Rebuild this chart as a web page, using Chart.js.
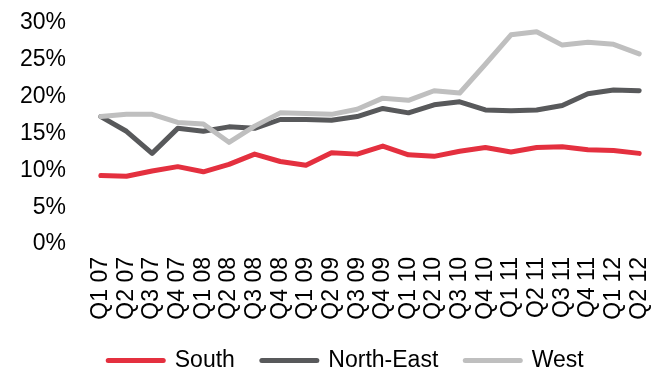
<!DOCTYPE html>
<html>
<head>
<meta charset="utf-8">
<script src="https://cdn.jsdelivr.net/npm/chart.js@4/dist/chart.umd.min.js"></script>
<style>
  html, body { margin: 0; padding: 0; background: #fff; }
  #wrap { width: 662px; height: 370px; position: relative; }
</style>
</head>
<body>
<div id="wrap"><canvas id="c"></canvas></div>
<script>
// Quarterly share by region, in percent
const quarters = ['Q1 07','Q2 07','Q3 07','Q4 07','Q1 08','Q2 08','Q3 08','Q4 08',
                  'Q1 09','Q2 09','Q3 09','Q4 09','Q1 10','Q2 10','Q3 10','Q4 10',
                  'Q1 11','Q2 11','Q3 11','Q4 11','Q1 12','Q2 12'];
const south     = [9.3, 9.2, 9.9, 10.5, 9.8, 10.8, 12.2, 11.2, 10.7, 12.4, 12.2, 13.3,
                   12.1, 11.9, 12.6, 13.1, 12.5, 13.1, 13.2, 12.8, 12.7, 12.3];
const northEast = [17.3, 15.3, 12.3, 15.7, 15.3, 15.9, 15.7, 16.9, 16.9, 16.8, 17.3, 18.4,
                   17.8, 18.9, 19.3, 18.2, 18.1, 18.2, 18.8, 20.4, 20.9, 20.8];
const west      = [17.3, 17.6, 17.6, 16.5, 16.3, 13.8, 16.0, 17.8, 17.7, 17.6, 18.3, 19.8,
                   19.5, 20.8, 20.5, 24.4, 28.4, 28.8, 27.0, 27.4, 27.1, 25.8];
const yTicks    = [0, 5, 10, 15, 20, 25, 30];

const FONT = 'Arial, "Liberation Sans", sans-serif';

function series(label, data, color, order) {
  return {
    label, data, order,
    borderColor: color,
    backgroundColor: color,
    borderWidth: 5,
    borderCapStyle: 'round',
    borderJoinStyle: 'round',
    pointRadius: 0,
    pointHoverRadius: 0,
    tension: 0,
    fill: false
  };
}

// Nudge the legend row so it sits centred under the plot area rather than the canvas
const legendNudge = {
  id: 'legendNudge',
  afterLayout(chart) {
    if (chart.legend) {
      chart.legend.left += 20;
      chart.legend.right += 20;
    }
  }
};

new Chart(document.getElementById('c'), {
  type: 'line',
  data: {
    labels: quarters,
    datasets: [
      series('South', south, '#e4303f', 0),
      series('North-East', northEast, '#58595b', 2),
      series('West', west, '#bfbfbf', 1)
    ]
  },
  plugins: [legendNudge],
  options: {
    responsive: true,
    maintainAspectRatio: false,
    animation: false,
    layout: { padding: { top: 23, right: 10, left: 0, bottom: -12 } },
    plugins: {
      tooltip: { enabled: false },
      legend: {
        position: 'bottom',
        labels: {
          color: '#000',
          font: { family: FONT, size: 23 },
          usePointStyle: true,
          pointStyleWidth: 55,
          boxHeight: 5,
          padding: 27,
          sort: (a, b) => a.datasetIndex - b.datasetIndex,
          generateLabels(chart) {
            const items = Chart.defaults.plugins.legend.labels.generateLabels(chart);
            items.forEach(it => {
              it.pointStyle = 'line';
              it.lineWidth = 5;
              it.lineCap = 'round';
            });
            return items;
          }
        }
      }
    },
    scales: {
      x: {
        offset: true,
        afterFit(axis) {
          axis.height = 78;
          axis.paddingLeft = 0;
          axis.paddingRight = 0;
        },
        grid: { display: false, drawTicks: false },
        border: { display: false },
        ticks: {
          autoSkip: false,
          maxRotation: 90,
          minRotation: 90,
          padding: 13,
          color: '#000',
          font: { family: FONT, size: 23 }
        }
      },
      y: {
        min: 0,
        max: 30,
        afterFit(axis) {
          axis.width = 88;
          axis.paddingTop = 0;
          axis.paddingBottom = 0;
        },
        afterBuildTicks(axis) { axis.ticks = yTicks.map(v => ({ value: v })); },
        grid: { display: false, drawTicks: false },
        border: { display: false },
        ticks: {
          padding: 22,
          color: '#000',
          font: { family: FONT, size: 23 },
          callback: v => v + '%'
        }
      }
    }
  }
});
</script>
</body>
</html>
